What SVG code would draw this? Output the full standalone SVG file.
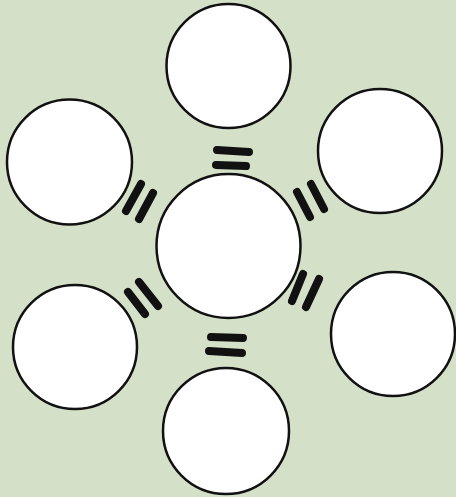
<svg xmlns="http://www.w3.org/2000/svg" width="456" height="497" viewBox="0 0 456 497">
<style>
.node{fill:#fff;stroke:#111;stroke-width:2.5}
.bar{stroke:#111;stroke-width:8;stroke-linecap:round;fill:none}
</style>
<rect width="456" height="497" fill="#d5e0c8"/>
<g id="connectors">
<line class="bar" x1="217" y1="150" x2="249" y2="152"/>
<line class="bar" x1="216" y1="165" x2="246" y2="166"/>
<line class="bar" x1="141" y1="184" x2="126" y2="211"/>
<line class="bar" x1="153" y1="193" x2="139" y2="219"/>
<line class="bar" x1="297" y1="192" x2="310" y2="217"/>
<line class="bar" x1="311" y1="184" x2="324" y2="209"/>
<line class="bar" x1="128" y1="292" x2="145" y2="314"/>
<line class="bar" x1="139" y1="282" x2="158" y2="306"/>
<line class="bar" x1="303" y1="274" x2="292" y2="301"/>
<line class="bar" x1="319" y1="279" x2="306" y2="307"/>
<line class="bar" x1="211" y1="337" x2="243" y2="338"/>
<line class="bar" x1="209" y1="351" x2="242" y2="353"/>
</g>
<g id="center"><circle class="node" cx="228.5" cy="246" r="72"/></g>
<g id="top"><circle class="node" cx="228.5" cy="66" r="62"/></g>
<g id="upper-left"><circle class="node" cx="69.5" cy="162" r="62.5"/></g>
<g id="upper-right"><circle class="node" cx="380" cy="151" r="62"/></g>
<g id="lower-left"><circle class="node" cx="75" cy="347" r="62"/></g>
<g id="lower-right"><circle class="node" cx="393" cy="334" r="62"/></g>
<g id="bottom"><circle class="node" cx="226" cy="431" r="63"/></g>
</svg>
